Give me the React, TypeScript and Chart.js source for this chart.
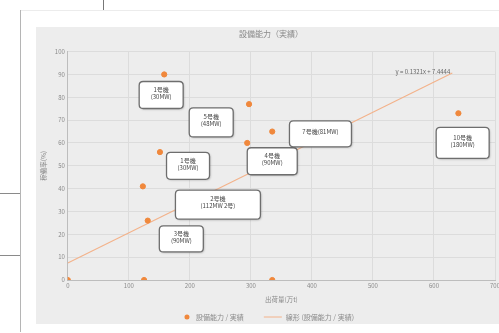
import React, { useEffect, useRef } from "react";
import { Chart, registerables } from "chart.js";

Chart.register(...registerables);

// ---- data ----
const capacityX = [0, 125, 335, 123, 131, 151, 158, 297, 294, 335, 640];
const capacityY = [0, 0, 0, 41, 26, 56, 90, 77, 60, 65, 73];
const trendSlope = 0.1321;
const trendIntercept = 7.4444;
const trendRange = [0, 630];
const xTicksMax = 700;
const yTicksMax = 100;

const chartTitle = "設備能力（実績）";
const xTitle = "出荷量(万t)";
const yTitle = "稼働率(%)";
const seriesName = "設備能力 / 実績";
const trendName = "線形 (設備能力 / 実績)";
const equationText = "y = 0.1321x + 7.4444";

// callout labels, anchored in data space
const calloutText = [
  ["1号機", "(30MW)"],
  ["5号機", "(48MW)"],
  ["1号機", "(30MW)"],
  ["4号機", "(90MW)"],
  ["7号機(81MW)"],
  ["2号機", "(112MW 2号)"],
  ["3号機", "(90MW)"],
  ["10号機", "(180MW)"],
];
const calloutX = [153, 235, 197, 335, 414, 246, 186, 647];
const calloutY = [81, 69, 50, 52, 64, 33, 18, 60];
const calloutW = [44, 44, 43, 50, 62, 85, 44, 53];
const calloutH = [27, 29, 27, 27, 26, 29, 26, 31];

const FONT = "'Noto Sans CJK JP', 'Noto Sans', sans-serif";
const ORANGE = "#f0883c";
const TREND = "#f3b28a";
const TEXT = "#8a8a8a";

function roundRect(ctx: CanvasRenderingContext2D, x: number, y: number, w: number, h: number, r: number) {
  ctx.beginPath();
  ctx.moveTo(x + r, y);
  ctx.lineTo(x + w - r, y);
  ctx.quadraticCurveTo(x + w, y, x + w, y + r);
  ctx.lineTo(x + w, y + h - r);
  ctx.quadraticCurveTo(x + w, y + h, x + w - r, y + h);
  ctx.lineTo(x + r, y + h);
  ctx.quadraticCurveTo(x, y + h, x, y + h - r);
  ctx.lineTo(x, y + r);
  ctx.quadraticCurveTo(x, y, x + r, y);
  ctx.closePath();
}

const overlayPlugin = {
  id: "overlay",
  afterDatasetsDraw(chart: any) {
    const ctx: CanvasRenderingContext2D = chart.ctx;
    const xs = chart.scales.x;
    const ys = chart.scales.y;
    ctx.save();
    // callouts
    for (let i = 0; i < calloutText.length; i++) {
      const cx = xs.getPixelForValue(calloutX[i]);
      const cy = ys.getPixelForValue(calloutY[i]);
      const w = calloutW[i];
      const h = calloutH[i];
      ctx.shadowColor = "rgba(0,0,0,0.25)";
      ctx.shadowBlur = 2;
      ctx.shadowOffsetX = 1;
      ctx.shadowOffsetY = 1;
      roundRect(ctx, cx - w / 2, cy - h / 2, w, h, 4);
      ctx.fillStyle = "#ffffff";
      ctx.fill();
      ctx.shadowColor = "transparent";
      ctx.lineWidth = 1.3;
      ctx.strokeStyle = "#6e6e6e";
      ctx.stroke();
      ctx.fillStyle = "#444";
      ctx.font = `6px ${FONT}`;
      ctx.textAlign = "center";
      ctx.textBaseline = "middle";
      const lines = calloutText[i];
      const lh = 7;
      const start = cy - ((lines.length - 1) * lh) / 2 - 2;
      lines.forEach((t, k) => ctx.fillText(t, cx, start + k * lh));
    }
    // trend equation
    const ex = xs.getPixelForValue(trendRange[1]);
    const ey = ys.getPixelForValue(trendSlope * trendRange[1] + trendIntercept);
    ctx.font = `6px ${FONT}`;
    ctx.fillStyle = "#666";
    ctx.textAlign = "right";
    ctx.textBaseline = "middle";
    ctx.fillText(equationText, ex - 2, ey - 1);
    // legend
    ctx.font = `7px ${FONT}`;
    ctx.textAlign = "left";
    const w1 = ctx.measureText(seriesName).width;
    const w2 = ctx.measureText(trendName).width;
    const total = 10 + w1 + 22 + 22 + w2;
    let lx = chart.width / 2 - total / 2;
    const ly = chart.height - 7;
    ctx.fillStyle = ORANGE;
    ctx.beginPath();
    ctx.arc(lx + 3, ly, 2.5, 0, Math.PI * 2);
    ctx.fill();
    ctx.fillStyle = TEXT;
    ctx.fillText(seriesName, lx + 12, ly);
    lx += 12 + w1 + 20;
    ctx.strokeStyle = TREND;
    ctx.lineWidth = 1;
    ctx.beginPath();
    ctx.moveTo(lx, ly);
    ctx.lineTo(lx + 18, ly);
    ctx.stroke();
    ctx.fillText(trendName, lx + 22, ly);
    ctx.restore();
  },
};

const bgPlugin = {
  id: "bg",
  beforeDraw(chart: any) {
    const ctx = chart.ctx;
    ctx.save();
    ctx.fillStyle = "#ededed";
    ctx.fillRect(0, 0, chart.width, chart.height);
    ctx.restore();
  },
};

export default function App() {
  const ref = useRef<HTMLCanvasElement>(null);
  useEffect(() => {
    document.body.style.margin = "0";
    const scatter = capacityX.map((x, i) => ({ x, y: capacityY[i] }));
    const trend = trendRange.map((x) => ({ x, y: trendSlope * x + trendIntercept }));
    const chart = new Chart(ref.current!, {
      type: "scatter",
      data: {
        datasets: [
          {
            label: seriesName,
            data: scatter,
            backgroundColor: ORANGE,
            borderColor: ORANGE,
            pointRadius: 2.6,
            pointHoverRadius: 2.6,
          },
          {
            type: "line",
            label: trendName,
            data: trend,
            borderColor: TREND,
            borderWidth: 1.1,
            pointRadius: 0,
            fill: false,
          } as any,
        ],
      },
      options: {
        responsive: false,
        animation: false,
        layout: { padding: { top: 0, bottom: 21, left: 4, right: 0 } },
        plugins: {
          legend: { display: false },
          tooltip: { enabled: false },
          title: {
            display: true,
            text: chartTitle,
            color: "#8a8a8a",
            font: { size: 8, family: FONT, weight: "normal" },
            padding: { top: 2, bottom: 13 },
          },
        },
        scales: {
          x: {
            type: "linear",
            min: 0,
            max: xTicksMax,
            ticks: { stepSize: 100, color: TEXT, font: { size: 6, family: FONT }, padding: 2 },
            grid: { color: "#dcdcdc", tickLength: 0 },
            border: { color: "#bdbdbd" },
            title: { display: true, text: xTitle, color: TEXT, font: { size: 6.5, family: FONT }, padding: { top: 4, bottom: 0 } },
          },
          y: {
            min: 0,
            max: yTicksMax,
            ticks: { stepSize: 10, color: TEXT, font: { size: 6, family: FONT }, padding: 3 },
            grid: { color: "#dcdcdc", tickLength: 0 },
            border: { color: "#bdbdbd" },
            title: { display: true, text: yTitle, color: TEXT, font: { size: 6.5, family: FONT }, padding: { top: 0, bottom: 4 } },
          },
        },
      },
      plugins: [bgPlugin, overlayPlugin],
    });
    return () => chart.destroy();
  }, []);

  return (
    <div style={{ position: "relative", width: 499, height: 333, overflow: "hidden", background: "#fff" }}>
      <div style={{ position: "absolute", left: 103, top: 0, width: 1, height: 10, background: "#777" }} />
      <div style={{ position: "absolute", left: 20, top: 10, width: 479, height: 1, background: "#ececec" }} />
      <div style={{ position: "absolute", left: 20, top: 10, width: 1, height: 322, background: "#b5b5b5" }} />
      <div style={{ position: "absolute", left: 0, top: 193, width: 20, height: 1, background: "#8a8a8a" }} />
      <div style={{ position: "absolute", left: 0, top: 255, width: 20, height: 1, background: "#8a8a8a" }} />
      <canvas ref={ref} width={466} height={297} style={{ position: "absolute", left: 36, top: 27 }} />
    </div>
  );
}
